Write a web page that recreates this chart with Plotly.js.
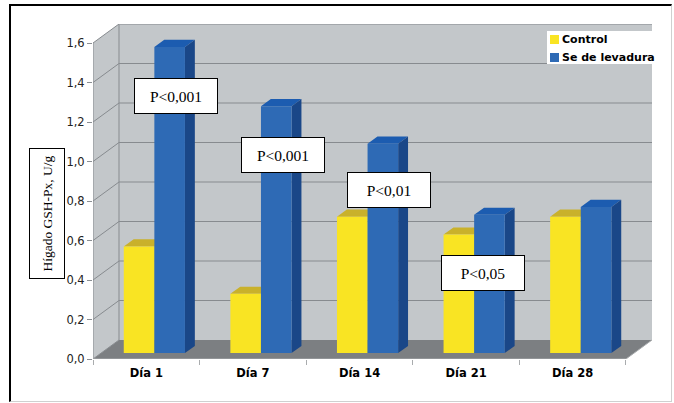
<!DOCTYPE html>
<html>
<head>
<meta charset="utf-8">
<script src="https://cdn.plot.ly/plotly-3.0.1.min.js"></script>
<style>
  html, body { margin: 0; padding: 0; background: #fff; }
  #wrap { position: relative; width: 674px; height: 403px; }
  #chart { position: absolute; left: 0; top: 0; width: 674px; height: 403px; }
  #frame {
    position: absolute; left: 9px; top: 4px; width: 663px; height: 398px;
    box-sizing: border-box; pointer-events: none;
    border-left: 2px solid #000; border-top: 2px solid #000;
    border-right: 1px solid #d0d0d0; border-bottom: 1px solid #d0d0d0;
  }
</style>
</head>
<body>
<div id="wrap">
  <div id="chart"></div>
  <div id="frame"></div>
</div>
<script>
// Hepatic GSH-Px activity (U/g) by sampling day
const categories = ['Día 1', 'Día 7', 'Día 14', 'Día 21', 'Día 28'];
const controlValues = [0.54, 0.30, 0.69, 0.60, 0.69];
const seleniumValues = [1.55, 1.25, 1.06, 0.70, 0.74];
const seriesNames = ['Control', 'Se de levadura'];
const yTicks = [0, 0.2, 0.4, 0.6, 0.8, 1.0, 1.2, 1.4, 1.6];
const pLabels = ['P<0,001', 'P<0,001', 'P<0,01', 'P<0,05'];

// Oblique "3-D" look: depth of the box expressed in axis units
const DX = 0.244;          // category units
const DY = 0.0962;         // value units
const BAR_W = 0.287;       // width of one bar, category units
const FRONT = 0.31, BACK = 0.69;   // bar depth band within the box

const W = 674, H = 403;
const M = { l: 93, r: 22, t: 24, b: 44 };
const yMax = yTicks[yTicks.length - 1];
const xMin = -0.5, xMax = categories.length - 0.5;

const wallColor = '#c3c7ca';
const gridColor = '#878b8f';
const floorColor = '#7c7f82';
const colors = {
  control: { front: '#f9e423', top: '#c9b12b', side: '#c9b12b' },
  selenium: { front: '#2e6ab5', top: '#1c5cb0', side: '#1a4788' }
};

const traces = [];
function poly(xs, ys, fill, line, lw) {
  traces.push({
    type: 'scatter', x: xs, y: ys, mode: line ? 'lines' : 'none',
    fill: fill ? 'toself' : 'none', fillcolor: fill || undefined,
    line: { color: line || 'rgba(0,0,0,0)', width: lw || 1 },
    hoverinfo: 'skip', showlegend: false
  });
}

// side wall, back wall and floor of the box
poly([xMin, xMin, xMin + DX, xMin + DX, xMin], [0, yMax, yMax + DY, DY, 0], wallColor);
poly([xMin + DX, xMax + DX, xMax + DX, xMin + DX, xMin + DX], [DY, DY, yMax + DY, yMax + DY, DY], wallColor);
poly([xMin, xMax, xMax + DX, xMin + DX, xMin], [0, 0, DY, DY, 0], floorColor);

// grid lines on the back wall and the matching diagonals on the side wall
(function () {
  const gx = [], gy = [];
  yTicks.forEach(v => {
    if (v > 0) { gx.push(xMin + DX, xMax + DX, null); gy.push(v + DY, v + DY, null); }
    gx.push(xMin, xMin + DX, null); gy.push(v, v + DY, null);
  });
  poly(gx, gy, null, gridColor, 1);
})();
// wall edges and corner
poly([xMin + DX, xMin + DX], [DY, yMax + DY], null, gridColor, 1);
poly([xMin + DX, xMax + DX], [yMax + DY, yMax + DY], null, '#a2a6a9', 1);
poly([xMin, xMin], [0, yMax], null, gridColor, 1);
poly([xMin, xMax, xMax + DX], [0, 0, DY], null, '#a9acae', 1);

// bars: top, side and front faces for each series
function barFaces(values, offset, c) {
  const top = { x: [], y: [] }, side = { x: [], y: [] }, front = { x: [], y: [] };
  const fx = FRONT * DX, fy = FRONT * DY, bx = BACK * DX, by = BACK * DY;
  values.forEach((v, i) => {
    const x0 = i + offset, x1 = x0 + BAR_W;
    top.x.push(x0 + fx, x1 + fx, x1 + bx, x0 + bx, x0 + fx, null);
    top.y.push(v + fy, v + fy, v + by, v + by, v + fy, null);
    side.x.push(x1 + fx, x1 + bx, x1 + bx, x1 + fx, x1 + fx, null);
    side.y.push(fy, by, v + by, v + fy, fy, null);
    front.x.push(x0 + fx, x1 + fx, x1 + fx, x0 + fx, x0 + fx, null);
    front.y.push(fy, fy, v + fy, v + fy, fy, null);
  });
  poly(top.x, top.y, c.top);
  poly(side.x, side.y, c.side);
  poly(front.x, front.y, c.front);
}
barFaces(controlValues, -BAR_W, colors.control);
barFaces(seleniumValues, 0, colors.selenium);

// pixel -> paper helpers for the decorations
const pw = W - M.l - M.r, ph = H - M.t - M.b;
const px = v => (v - M.l) / pw;
const py = v => (H - M.b - v) / ph;

const annotations = [];
// p-value boxes
const pPos = [[0.282, 1.334], [1.279, 1.035], [2.276, 0.856], [3.161, 0.435]];
pLabels.forEach((t, k) => {
  annotations.push({
    x: pPos[k][0], y: pPos[k][1], xref: 'x', yref: 'y', text: t, showarrow: false,
    font: { family: 'Liberation Serif, Times New Roman, serif', size: 15.5, color: '#000' },
    bgcolor: '#fff', bordercolor: '#000', borderwidth: 1, borderpad: 1,
    width: 80, height: 32, xanchor: 'center', yanchor: 'middle'
  });
});
// boxed axis title
annotations.push({
  x: px(46.5), y: py(213.5), xref: 'paper', yref: 'paper', text: 'Hígado GSH-Px, U/g',
  showarrow: false, textangle: -90,
  font: { family: 'Liberation Serif, Times New Roman, serif', size: 13.5, color: '#000' },
  bgcolor: '#fff', bordercolor: '#000', borderwidth: 1, borderpad: 1,
  width: 127, height: 32, xanchor: 'center', yanchor: 'middle'
});
// legend entries
const shapes = [
  { type: 'rect', xref: 'paper', yref: 'paper', x0: px(547), x1: px(652), y0: py(64), y1: py(31),
    fillcolor: '#fff', line: { width: 0 } },
  { type: 'rect', xref: 'paper', yref: 'paper', x0: px(550), x1: px(559), y0: py(44), y1: py(35),
    fillcolor: colors.control.front, line: { width: 0 } },
  { type: 'rect', xref: 'paper', yref: 'paper', x0: px(550), x1: px(559), y0: py(62), y1: py(53),
    fillcolor: colors.selenium.front, line: { width: 0 } }
];
[39.5, 57.5].forEach((yy, k) => {
  annotations.push({
    x: px(560), y: py(yy), xref: 'paper', yref: 'paper', text: '<b>' + seriesNames[k] + '</b>',
    showarrow: false, xanchor: 'left', yanchor: 'middle',
    font: { family: 'DejaVu Sans, Verdana, sans-serif', size: 11, color: '#000' }
  });
});

const layout = {
  width: W, height: H, margin: M,
  paper_bgcolor: 'rgba(0,0,0,0)', plot_bgcolor: 'rgba(0,0,0,0)',
  separators: ',.', showlegend: false,
  xaxis: {
    range: [xMin, xMax + DX], fixedrange: true, showgrid: false, zeroline: false, showline: false,
    tickmode: 'array', tickvals: categories.map((c, i) => i),
    ticktext: categories.map(c => '<b>' + c + '</b>'), ticks: '', ticklabelstandoff: 5,
    tickfont: { family: 'DejaVu Sans, Verdana, sans-serif', size: 11.5, color: '#000' },
    minor: { tickmode: 'array', tickvals: categories.map((c, i) => i - 0.5).concat([xMax]),
             ticks: 'outside', ticklen: 5, tickcolor: '#a9acae', showgrid: false }
  },
  yaxis: {
    range: [0, yMax + DY], fixedrange: true, showgrid: false, zeroline: false, showline: false,
    tickmode: 'array', tickvals: yTicks, tickformat: '.1f',
    ticks: 'outside', ticklen: 5, tickcolor: '#8b8f93',
    tickfont: { family: 'DejaVu Sans, Verdana, sans-serif', size: 11.5, color: '#222' }
  },
  annotations: annotations, shapes: shapes
};

Plotly.newPlot('chart', traces, layout, { displayModeBar: false, staticPlot: true });
</script>
</body>
</html>
